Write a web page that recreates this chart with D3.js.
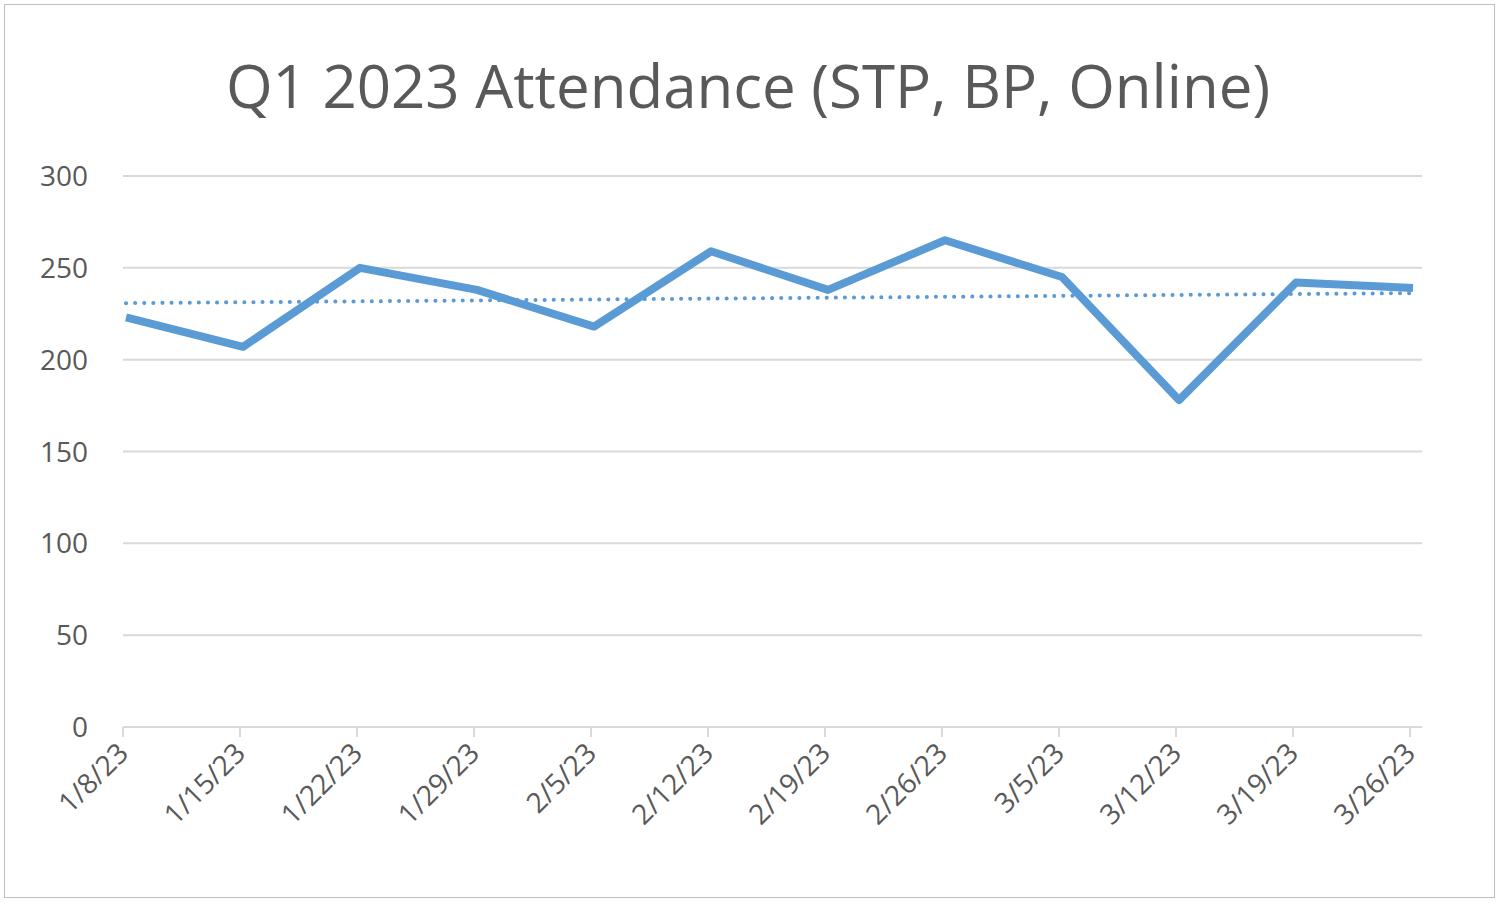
<!DOCTYPE html>
<html><head><meta charset="utf-8">
<script src="https://cdn.jsdelivr.net/npm/d3@7"></script>
<style>body{margin:0;background:#fff}svg{display:block}</style>
</head><body>
<svg id="chart" width="1500" height="905"></svg>
<script>
const dates = ["1/8/23","1/15/23","1/22/23","1/29/23","2/5/23","2/12/23","2/19/23","2/26/23","3/5/23","3/12/23","3/19/23","3/26/23"];
const attendance = [223, 207, 250, 238, 218, 259, 238, 265, 245, 178, 242, 239];
const yTicks = [0, 50, 100, 150, 200, 250, 300];

const svg = d3.select("#chart");
const font = "'Open Sans', 'Liberation Sans', sans-serif";
svg.append("rect").attr("x", 4.5).attr("y", 4.5).attr("width", 1490).attr("height", 893)
  .attr("fill", "#fff").attr("stroke", "#bfbfbf");

svg.append("text").attr("x", 748).attr("y", 108).attr("text-anchor", "middle")
  .attr("font-family", font).attr("font-size", 60).attr("fill", "#595959")
  .text("Q1 2023 Attendance (STP, BP, Online)");

const plotLeft = 123, plotRight = 1422, plotTop = 176, plotBottom = 727;
const y = d3.scaleLinear().domain([0, 300]).range([plotBottom, plotTop]);
const x = d3.scalePoint().domain(dates).range([126, 1413]);

// gridlines
svg.append("g").selectAll("line").data(yTicks).join("line")
  .attr("x1", plotLeft).attr("x2", plotRight).attr("y1", d => y(d)).attr("y2", d => y(d))
  .attr("stroke", "#d9d9d9").attr("stroke-width", 2);

svg.append("g").selectAll("text").data(yTicks).join("text")
  .attr("x", 88).attr("y", d => y(d) + 10).attr("text-anchor", "end")
  .attr("font-family", font).attr("font-size", 28).attr("fill", "#595959").text(d => d);

// x axis ticks and labels
const xt = svg.append("g");
xt.selectAll("line").data(dates).join("line")
  .attr("x1", d => x(d) - 3).attr("x2", d => x(d) - 3).attr("y1", plotBottom).attr("y2", plotBottom + 10)
  .attr("stroke", "#d9d9d9").attr("stroke-width", 2);
xt.selectAll("text").data(dates).join("text")
  .attr("transform", d => `translate(${x(d) + 4},${plotBottom + 28}) rotate(-45)`)
  .attr("text-anchor", "end").attr("font-family", font).attr("font-size", 28).attr("fill", "#595959")
  .text(d => d);

// linear trendline
const n = attendance.length, idx = d3.range(n);
const mx = d3.mean(idx), my = d3.mean(attendance);
const slope = d3.sum(idx, i => (i - mx) * (attendance[i] - my)) / d3.sum(idx, i => (i - mx) ** 2);
const icpt = my - slope * mx;
svg.append("line")
  .attr("x1", x(dates[0])).attr("y1", y(icpt))
  .attr("x2", x(dates[n - 1])).attr("y2", y(icpt + slope * (n - 1)))
  .attr("stroke", "#5b9bd5").attr("stroke-width", 4).attr("stroke-dasharray", "0.1 9")
  .attr("stroke-linecap", "round");

const line = d3.line().x((d, i) => x(dates[i])).y(d => y(d));
svg.append("path").datum(attendance).attr("d", line)
  .attr("fill", "none").attr("stroke", "#5b9bd5").attr("stroke-width", 8).attr("stroke-linejoin", "round");
</script>
</body></html>
